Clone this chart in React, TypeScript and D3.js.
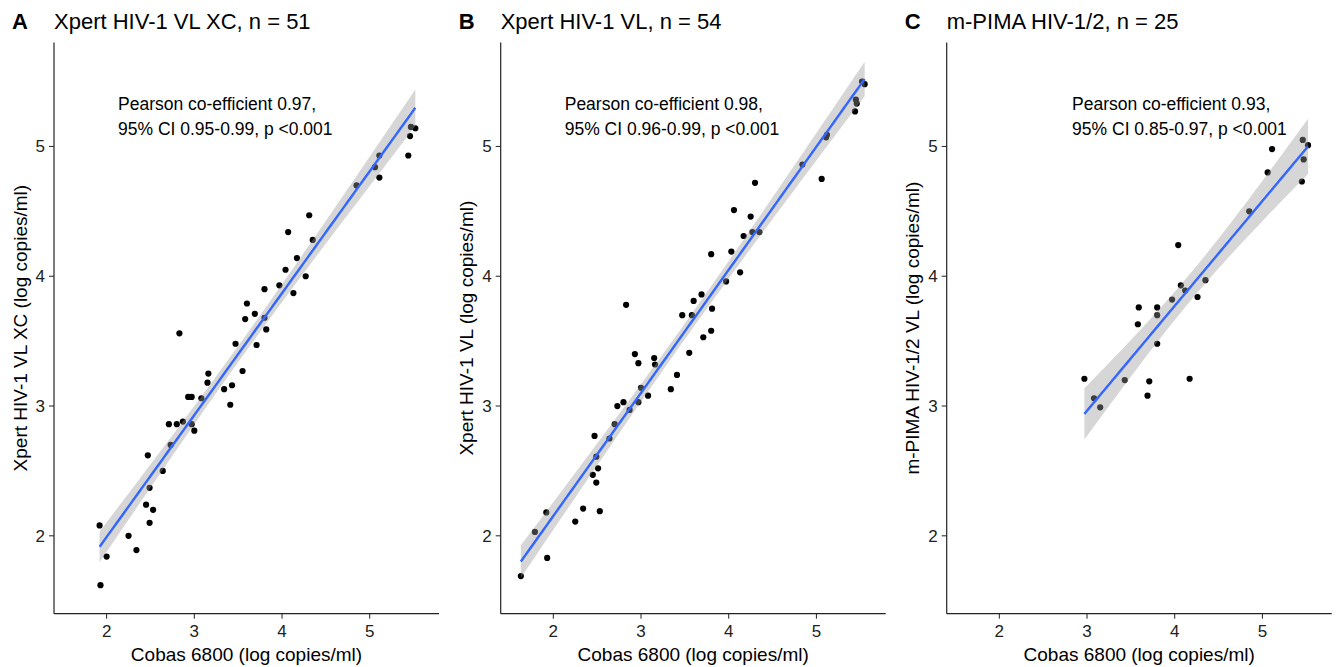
import React from "react";
import * as d3 from "d3";

const width = 1340;
const height = 667;

// Panel A: Cobas 6800 vs Xpert HIV-1 VL XC (log copies/ml)
const xcCobas = [1.92, 1.93, 2.0, 2.25, 2.34, 2.47, 2.49, 2.45, 2.53, 2.49, 2.64, 2.73, 2.71, 2.8, 2.87, 2.83, 2.93, 2.97, 2.97, 3.0, 3.08, 3.15, 3.16, 3.34, 3.43, 3.41, 3.47, 3.55, 3.58, 3.6, 3.69, 3.71, 3.8, 3.82, 3.8, 3.97, 4.04, 4.07, 4.13, 4.17, 4.27, 4.31, 4.35, 4.85, 5.06, 5.11, 5.11, 5.44, 5.46, 5.47, 5.52];
const xcXpert = [2.08, 1.62, 1.84, 2.0, 1.89, 2.62, 2.37, 2.24, 2.2, 2.1, 2.5, 2.7, 2.86, 2.86, 2.88, 3.56, 3.07, 3.07, 2.86, 2.81, 3.06, 3.18, 3.25, 3.13, 3.16, 3.01, 3.48, 3.27, 3.67, 3.79, 3.71, 3.47, 3.68, 3.59, 3.9, 3.93, 4.05, 4.34, 3.87, 4.14, 4.0, 4.47, 4.28, 4.7, 4.84, 4.93, 4.76, 4.93, 5.08, 5.15, 5.14];

// Panel B: Cobas 6800 vs Xpert HIV-1 VL
const vlCobas = [1.63, 1.79, 1.92, 1.93, 2.25, 2.34, 2.53, 2.47, 2.49, 2.51, 2.45, 2.49, 2.64, 2.7, 2.73, 2.8, 2.87, 2.83, 2.93, 2.97, 3.0, 2.97, 3.08, 3.15, 3.16, 3.34, 3.41, 3.47, 3.55, 3.58, 3.6, 3.69, 3.71, 3.8, 3.81, 3.8, 3.97, 4.03, 4.06, 4.13, 4.17, 4.25, 4.27, 4.35, 4.3, 4.84, 5.06, 5.11, 5.12, 5.44, 5.45, 5.46, 5.52, 5.55];
const vlXpert = [1.69, 2.03, 2.18, 1.83, 2.11, 2.21, 2.19, 2.77, 2.61, 2.52, 2.47, 2.41, 2.75, 2.86, 3.0, 3.03, 2.97, 3.78, 3.4, 3.33, 3.14, 3.03, 3.08, 3.37, 3.32, 3.13, 3.24, 3.7, 3.41, 3.7, 3.81, 3.86, 3.53, 4.17, 3.75, 3.58, 3.96, 4.19, 4.51, 4.03, 4.31, 4.46, 4.34, 4.34, 4.72, 4.86, 4.75, 5.07, 5.09, 5.27, 5.36, 5.33, 5.5, 5.48];

// Panel C: Cobas 6800 vs m-PIMA HIV-1/2 VL
const pimaCobas = [2.97, 3.08, 3.15, 3.43, 3.58, 3.59, 3.69, 3.71, 3.8, 3.8, 3.8, 3.97, 4.04, 4.07, 4.12, 4.17, 4.26, 4.35, 4.85, 5.06, 5.11, 5.45, 5.46, 5.47, 5.52];
const pimaValues = [3.21, 3.06, 2.99, 3.2, 3.63, 3.76, 3.08, 3.19, 3.76, 3.7, 3.48, 3.82, 4.24, 3.93, 3.89, 3.21, 3.84, 3.97, 4.5, 4.8, 4.98, 4.73, 5.05, 4.9, 5.01];

const xTicks = [2, 3, 4, 5];
const yTicks = [2, 3, 4, 5];

const panels = [
  { tag: "A", title: "Xpert HIV-1 VL XC, n = 51", yLabel: "Xpert HIV-1 VL XC (log copies/ml)", xs: xcCobas, ys: xcXpert, note1: "Pearson co-efficient 0.97,", note2: "95% CI 0.95-0.99, p <0.001", noteX: 2.13, tCrit: 2.0096 },
  { tag: "B", title: "Xpert HIV-1 VL, n = 54", yLabel: "Xpert HIV-1 VL (log copies/ml)", xs: vlCobas, ys: vlXpert, note1: "Pearson co-efficient 0.98,", note2: "95% CI 0.96-0.99, p <0.001", noteX: 2.13, tCrit: 2.0066 },
  { tag: "C", title: "m-PIMA HIV-1/2, n = 25", yLabel: "m-PIMA HIV-1/2 VL (log copies/ml)", xs: pimaCobas, ys: pimaValues, note1: "Pearson co-efficient 0.93,", note2: "95% CI 0.85-0.97, p <0.001", noteX: 2.83, tCrit: 2.0687 },
];

const panelLeft = [54, 500.7, 946.7];
const plotW = 385;
const plotTop = 42.6;
const plotBottom = 613.7;
const font = "'Liberation Sans', Arial, sans-serif";

// linear fit with confidence band (like geom_smooth(method = "lm"))
function lmBand(xs, ys, tCrit) {
  const n = xs.length;
  const mx = d3.mean(xs);
  const my = d3.mean(ys);
  const sxx = d3.sum(xs, (x) => (x - mx) ** 2);
  const sxy = d3.sum(xs.map((x, i) => (x - mx) * (ys[i] - my)));
  const b = sxy / sxx;
  const a = my - b * mx;
  const s = Math.sqrt(d3.sum(xs.map((x, i) => (ys[i] - a - b * x) ** 2)) / (n - 2));
  const [x0, x1] = d3.extent(xs);
  return d3.range(80).map((i) => {
    const x = x0 + ((x1 - x0) * i) / 79;
    const yh = a + b * x;
    const se = s * Math.sqrt(1 / n + (x - mx) ** 2 / sxx);
    return { x, y: yh, lo: yh - tCrit * se, hi: yh + tCrit * se };
  });
}

const Panel = ({ p, left }) => {
  const xScale = d3.scaleLinear().domain([1.4, 5.79]).range([0, plotW]);
  const yScale = d3.scaleLinear().domain([1.4, 5.8]).range([plotBottom, plotTop]);
  const band = lmBand(p.xs, p.ys, p.tCrit);
  const area = d3.area().x((d) => xScale(d.x)).y0((d) => yScale(d.lo)).y1((d) => yScale(d.hi));
  const fitLine = d3.line().x((d) => xScale(d.x)).y((d) => yScale(d.y));
  const midY = (plotTop + plotBottom) / 2;

  return (
    <g transform={`translate(${left}, 0)`} fontFamily={font}>
      <text x={-42} y={29} fontSize={22} fontWeight="bold">{p.tag}</text>
      <text x={0} y={29} fontSize={22}>{p.title}</text>

      {/* points */}
      {p.xs.map((x, i) => (
        <circle key={i} cx={xScale(x)} cy={yScale(p.ys[i])} r={3.1} fill="black" />
      ))}

      {/* smooth */}
      <path d={area(band)} fill="#999999" fillOpacity={0.4} />
      <path d={fitLine(band)} fill="none" stroke="#3366FF" strokeWidth={2.4} />

      {/* annotation */}
      <text x={xScale(p.noteX)} y={yScale(5.33)} dy="0.35em" fontSize={17.5}>{p.note1}</text>
      <text x={xScale(p.noteX)} y={yScale(5.33) + 25} dy="0.35em" fontSize={17.5}>{p.note2}</text>

      {/* axes */}
      <line x1={0} x2={0} y1={plotTop} y2={plotBottom} stroke="#222" strokeWidth={1.2} />
      <line x1={0} x2={plotW} y1={plotBottom} y2={plotBottom} stroke="#222" strokeWidth={1.2} />
      {xTicks.map((t) => (
        <g key={t} transform={`translate(${xScale(t)}, ${plotBottom})`}>
          <line y2={5} stroke="#222" />
          <text y={23} textAnchor="middle" fontSize={17} fill="#222">{t}</text>
        </g>
      ))}
      {yTicks.map((t) => (
        <g key={t} transform={`translate(0, ${yScale(t)})`}>
          <line x2={-5} stroke="#222" />
          <text x={-9} dy="0.35em" textAnchor="end" fontSize={17} fill="#222">{t}</text>
        </g>
      ))}
      <text x={plotW / 2} y={661} textAnchor="middle" fontSize={19}>Cobas 6800 (log copies/ml)</text>
      <text transform={`translate(-34, ${midY}) rotate(-90)`} dy="0.35em" textAnchor="middle" fontSize={19}>{p.yLabel}</text>
    </g>
  );
};

export default function App() {
  return (
    <svg width={width} height={height} style={{ position: "absolute", left: 0, top: 0, background: "white" }}>
      <rect width={width} height={height} fill="white" />
      {panels.map((p, i) => (
        <Panel key={p.tag} p={p} left={panelLeft[i]} />
      ))}
    </svg>
  );
}
